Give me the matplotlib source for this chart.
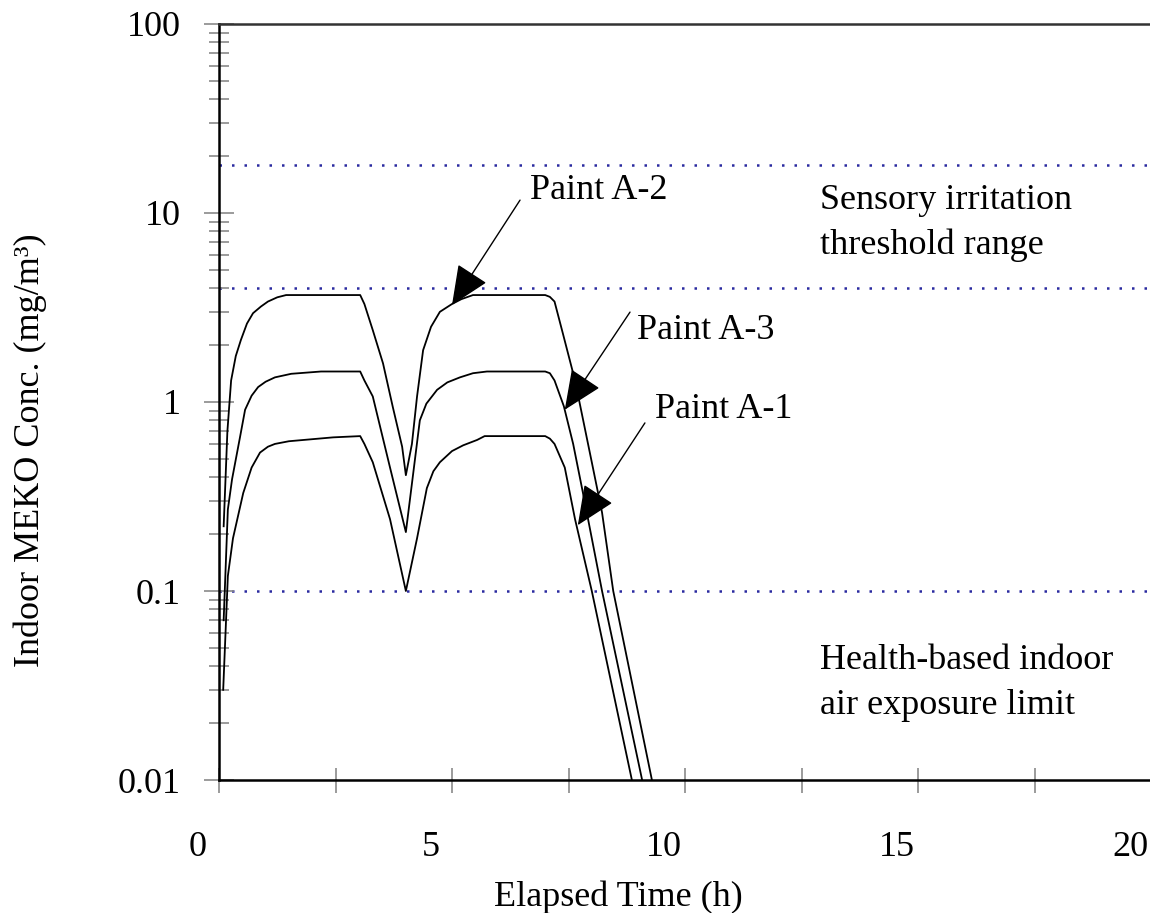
import matplotlib

matplotlib.use("Agg")
import matplotlib.pyplot as plt
from matplotlib.transforms import ScaledTranslation

plt.rcParams["font.family"] = ["Liberation Serif", "DejaVu Serif"]

# Simulated indoor MEKO concentration (mg/m3) vs elapsed time (h)
t_a2 = [0.1, 0.18, 0.26, 0.36, 0.47, 0.6, 0.73, 0.9, 1.05, 1.25, 1.44, 3.03, 3.12,
        3.3, 3.52, 3.73, 3.93, 4.01, 4.14, 4.25, 4.38, 4.55, 4.74, 5.0, 5.2, 5.45,
        7.0, 7.1, 7.2, 7.38, 7.64, 8.0, 8.22, 8.46, 9.29]
c_a2 = [0.22, 0.7, 1.3, 1.75, 2.13, 2.6, 2.95, 3.2, 3.4, 3.58, 3.68, 3.68, 3.3,
        2.4, 1.6, 0.94, 0.58, 0.41, 0.6, 1.07, 1.88, 2.5, 3.0, 3.3, 3.5, 3.68,
        3.68, 3.6, 3.4, 2.3, 1.3, 0.48, 0.26, 0.1, 0.01]

t_a3 = [0.1, 0.19, 0.28, 0.45, 0.56, 0.7, 0.84, 1.0, 1.2, 1.55, 2.19, 3.03, 3.12,
        3.3, 3.67, 4.01, 4.31, 4.45, 4.68, 4.9, 5.17, 5.45, 5.75, 7.0, 7.1, 7.2,
        7.4, 7.6, 7.8, 8.0, 8.22, 9.08]
c_a3 = [0.07, 0.27, 0.39, 0.65, 0.91, 1.08, 1.2, 1.28, 1.35, 1.41, 1.45, 1.45, 1.3,
        1.07, 0.45, 0.205, 0.8, 0.98, 1.16, 1.27, 1.35, 1.42, 1.45, 1.45, 1.42, 1.3,
        0.95, 0.6, 0.34, 0.19, 0.1, 0.01]

t_a1 = [0.09, 0.19, 0.3, 0.52, 0.7, 0.88, 1.05, 1.2, 1.5, 2.45, 3.03, 3.12, 3.3,
        3.67, 4.01, 4.25, 4.46, 4.6, 4.74, 5.0, 5.24, 5.54, 5.7, 7.0, 7.1, 7.2,
        7.42, 7.64, 8.0, 8.86]
c_a1 = [0.03, 0.12, 0.19, 0.33, 0.45, 0.54, 0.58, 0.6, 0.62, 0.65, 0.66, 0.6, 0.48,
        0.24, 0.1, 0.19, 0.35, 0.43, 0.48, 0.55, 0.59, 0.63, 0.66, 0.66, 0.64, 0.6,
        0.45, 0.24, 0.1, 0.01]

# reference levels (mg/m3)
irritation_low = 4.0
irritation_high = 18.0
exposure_limit = 0.1

y_ticks = [0.01, 0.1, 1, 10, 100]
y_tick_labels = ["0.01", "0.1", "1", "10", "100"]
x_ticks = [0, 5, 10, 15, 20]
x_tick_labels = ["0", "5", "10", "15", "20"]

FS = 26
TICK_GRAY = "#8a8a8a"
DOT_BLUE = "#2a2aa0"

fig = plt.figure(figsize=(11.5, 9.13), dpi=100)
ax = fig.add_axes([219 / 1150, 133 / 913, 932 / 1150, 756 / 913])

for level in (irritation_high, irritation_low, exposure_limit):
    ax.axhline(level, color=DOT_BLUE, lw=1.8, linestyle=(0, (1, 4)), zorder=1)

for t, c in ((t_a2, c_a2), (t_a3, c_a3), (t_a1, c_a1)):
    ax.plot(t, c, color="black", lw=1.3, zorder=3)

ax.set_yscale("log")
ax.set_xlim(0, 20)
ax.set_ylim(0.01, 100)

ax.set_yticks(y_ticks, y_tick_labels)
ax.set_xticks(x_ticks, x_tick_labels)
ax.set_xticks([2.5, 7.5, 12.5, 17.5], minor=True)

ax.tick_params(axis="y", which="major", direction="inout", length=21.5, width=1.2,
               color=TICK_GRAY, labelsize=FS, pad=17)
ax.tick_params(axis="y", which="minor", direction="inout", length=14.5, width=1.2,
               color=TICK_GRAY)
ax.tick_params(axis="x", which="both", direction="inout", length=18, width=1.2,
               color=TICK_GRAY, labelsize=FS, pad=28)

# x labels sit slightly left of their ticks
shift = ScaledTranslation(-0.21, 0, fig.dpi_scale_trans)
for lab in ax.get_xticklabels():
    lab.set_transform(lab.get_transform() + shift)

ax.spines["right"].set_visible(False)
ax.spines["left"].set_linewidth(1.8)
ax.spines["bottom"].set_linewidth(1.8)
ax.spines["top"].set_linewidth(1.8)
ax.spines["top"].set_color("#333333")

arrow = dict(arrowstyle="-|>,head_length=0.5,head_width=0.22", color="black",
             lw=1.0, mutation_scale=50, shrinkA=0, shrinkB=0)
ax.annotate("", xy=(5.0, 3.26), xytext=(6.46, 11.7), arrowprops=arrow)
ax.annotate("", xy=(7.42, 0.91), xytext=(8.82, 2.99), arrowprops=arrow)
ax.annotate("", xy=(7.7, 0.223), xytext=(9.14, 0.775), arrowprops=arrow)

ax.text(6.67, 13.2, "Paint A-2", fontsize=FS, ha="left", va="center")
ax.text(8.97, 2.4, "Paint A-3", fontsize=FS, ha="left", va="center")
ax.text(9.36, 0.91, "Paint A-1", fontsize=FS, ha="left", va="center")

ax.text(12.9, 8.85, "Sensory irritation\nthreshold range", fontsize=FS,
        ha="left", va="center", linespacing=1.45)
ax.text(12.9, 0.0326, "Health-based indoor\nair exposure limit", fontsize=FS,
        ha="left", va="center", linespacing=1.45)

fig.text(30 / 1150, 1 - 450 / 913, "Indoor MEKO Conc. (mg/m³)", fontsize=FS,
         rotation=90, ha="center", va="center")
fig.text(618 / 1150, 1 - 897 / 913, "Elapsed Time (h)", fontsize=FS,
         ha="center", va="center")

fig.savefig("out.png", dpi=100)
